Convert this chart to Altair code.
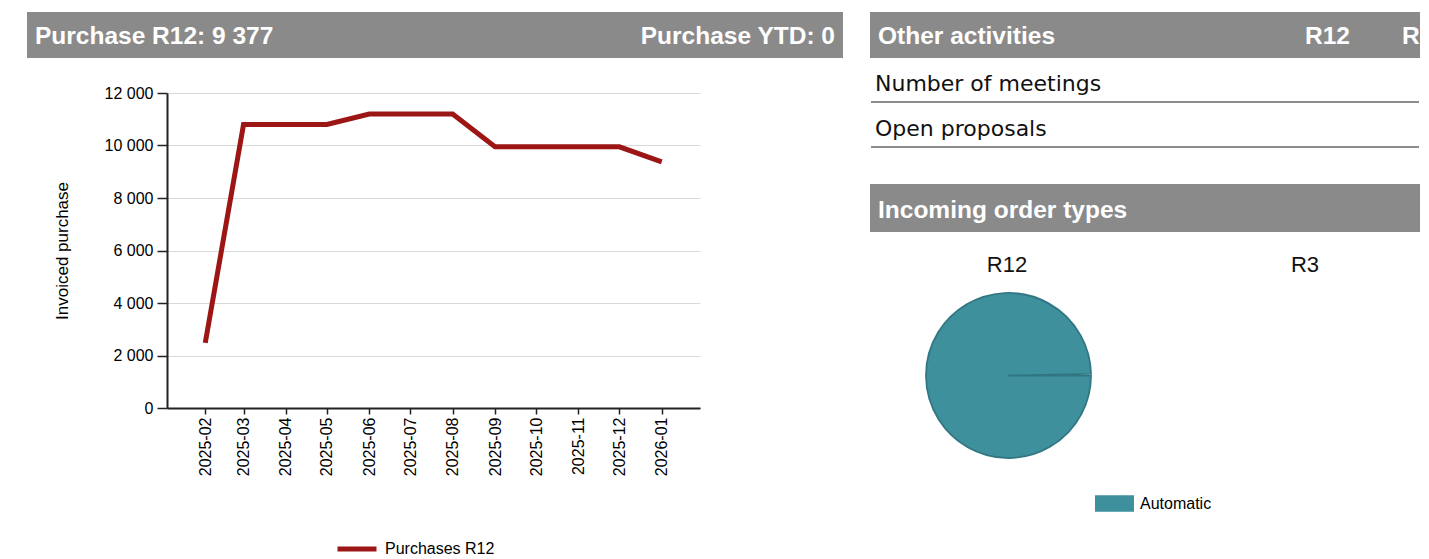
import math
import altair as alt
import pandas as pd

# ---------------- data ----------------
months = ["2025-02", "2025-03", "2025-04", "2025-05", "2025-06", "2025-07",
          "2025-08", "2025-09", "2025-10", "2025-11", "2025-12", "2026-01"]
purchases = [2480, 10800, 10800, 10800, 11200, 11200, 11200,
             9950, 9950, 9950, 9950, 9377]
series_name = "Purchases R12"
y_ticks = [0, 2000, 4000, 6000, 8000, 10000, 12000]
y_title = "Invoiced purchase"

header_left = "Purchase R12: 9 377"
header_right = "Purchase YTD: 0"
table_header = "Other activities"
table_cols = ["R12", "R"]          # second column is cut off at the edge
table_rows = ["Number of meetings", "Open proposals"]
pie_header = "Incoming order types"
pie_titles = ["R12", "R3"]
order_types = ["Automatic"]
order_values = [100]

# ---------------- styles ----------------
GRAY = "#8a8a8a"
RED = "#9c1616"
TEAL = "#3e909c"
SANS = "Liberation Sans"
ROWFONT = "DejaVu Sans"
RW = 550  # right panel width


def text_layer(label, x, y, size, color="#000000", weight="normal",
               align="left", font=SANS, baseline="alphabetic"):
    return alt.Chart(pd.DataFrame({"t": [label]})).mark_text(
        align=align, baseline=baseline, fontSize=size, font=font,
        fontWeight=weight, color=color
    ).encode(x=alt.value(x), y=alt.value(y), text="t:N")


def rect_layer(x, x2, y, y2, color):
    return alt.Chart(pd.DataFrame({"k": [0]})).mark_rect(color=color).encode(
        x=alt.value(x), x2=alt.value(x2), y=alt.value(y), y2=alt.value(y2))


def rule_layer(x, x2, y, color, width):
    return alt.Chart(pd.DataFrame({"k": [0]})).mark_rule(
        color=color, strokeWidth=width
    ).encode(x=alt.value(x), x2=alt.value(x2), y=alt.value(y))


# ---------------- left panel: line chart ----------------
line_df = pd.DataFrame({
    "date": [m + "-01" for m in months],
    "value": purchases,
    "series": [series_name] * len(months),
})

tick_dates = [alt.DateTime(year=int(m[:4]), month=int(m[5:]), date=1, utc=True)
              for m in months]
x_domain = [alt.DateTime(year=2025, month=1, date=4, utc=True),
            alt.DateTime(year=2026, month=1, date=29, utc=True)]

line = alt.Chart(line_df).mark_line(strokeWidth=5).encode(
    x=alt.X("date:T",
            scale=alt.Scale(type="utc", domain=x_domain),
            axis=alt.Axis(values=tick_dates, format="%Y-%m", labelAngle=270,
                          title=None, grid=False, tickSize=6, labelPadding=3,
                          labelFontSize=16, labelFont=SANS, labelColor="#000000",
                          domainColor="#222222", domainWidth=2,
                          tickColor="#222222", tickWidth=1.5)),
    y=alt.Y("value:Q",
            scale=alt.Scale(domain=[0, 12000], nice=False, zero=True),
            axis=alt.Axis(values=y_ticks,
                          labelExpr="replace(format(datum.value, ','), ',', ' ')",
                          title=y_title, titleFontSize=17, titleFont=SANS,
                          titleFontWeight="normal", titleColor="#000000",
                          titlePadding=33,
                          tickSize=10, labelPadding=4, labelFontSize=16,
                          labelFont=SANS, labelColor="#000000",
                          grid=True, gridColor="#d9d9d9", gridWidth=1,
                          domainColor="#222222", domainWidth=2,
                          tickColor="#222222", tickWidth=1.5)),
    color=alt.Color("series:N",
                    scale=alt.Scale(domain=[series_name], range=[RED]),
                    legend=alt.Legend(orient="none", legendX=168, legendY=434,
                                      title=None, symbolType="stroke",
                                      symbolSize=1521, symbolStrokeWidth=5,
                                      labelFontSize=16, labelFont=SANS,
                                      labelColor="#000000", labelOffset=6,
                                      padding=0)),
)

left = alt.layer(
    rect_layer(-140, 676, -81, -35, GRAY),
    text_layer(header_left, -132, -49, 24.5, color="white", weight="bold"),
    text_layer(header_right, 668, -49, 24.5, color="white", weight="bold",
               align="right"),
    line,
).properties(width=533, height=315)

# ---------------- right panel: table + pie ----------------
pie_df = pd.DataFrame({"type": order_types, "value": order_values})

pie = alt.Chart(pie_df).mark_arc(radius=82.5, stroke="#317783",
                                 strokeWidth=1.8).encode(
    theta=alt.Theta("value:Q", stack=True,
                    scale=alt.Scale(range=[math.pi / 2,
                                           math.pi / 2 + 2 * math.pi - 0.02])),
    color=alt.Color("type:N",
                    scale=alt.Scale(domain=order_types, range=[TEAL]),
                    legend=alt.Legend(orient="none", legendX=225, legendY=391,
                                      title=None,
                                      symbolType="M-1,-0.42H1V0.42H-1Z",
                                      symbolSize=1521, symbolStrokeWidth=0,
                                      labelFontSize=16, labelFont=SANS,
                                      labelColor="#000000", labelOffset=6,
                                      padding=0)),
    x=alt.value(138.5),
    y=alt.value(282.5),
)

right = alt.layer(
    rect_layer(0, RW, -81, -35, GRAY),
    text_layer(table_header, 8, -49, 24.5, color="white", weight="bold"),
    text_layer(table_cols[0], 435, -49, 24.5, color="white", weight="bold"),
    text_layer(table_cols[1], 532, -49, 24.5, color="white", weight="bold"),
    text_layer(table_rows[0], 5, -2, 22, font=ROWFONT, color="#111111"),
    rule_layer(1, RW - 1, 9, "#8c8c8c", 2),
    text_layer(table_rows[1], 5, 43, 22, font=ROWFONT, color="#111111"),
    rule_layer(1, RW - 1, 54, "#8c8c8c", 2),
    rect_layer(0, RW, 91, 139, GRAY),
    text_layer(pie_header, 8, 125, 24.5, color="white", weight="bold"),
    text_layer(pie_titles[0], 137, 179, 22, align="center", color="#111111"),
    text_layer(pie_titles[1], 435, 179, 22, align="center", color="#111111"),
    pie,
).properties(width=RW, height=315)

chart = alt.hconcat(left, right, spacing=27).resolve_scale(
    color="independent"
).resolve_legend(
    color="independent"
).properties(
    padding={"left": 19, "top": 4, "right": 0, "bottom": 0},
    background="white",
).configure(font=SANS).configure_view(strokeWidth=0)

chart.save("out.html", embed_options={"renderer": "svg", "actions": False})
